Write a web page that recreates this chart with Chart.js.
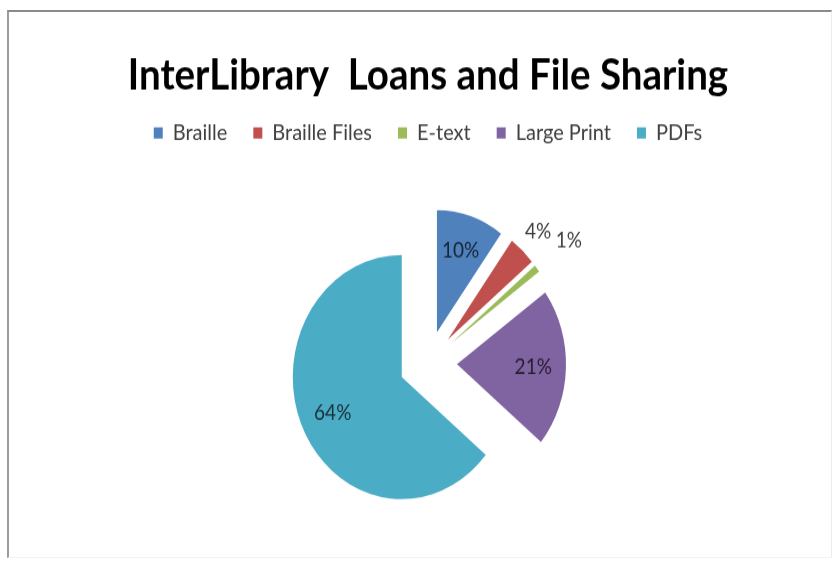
<!DOCTYPE html>
<html>
<head>
<meta charset="utf-8">
<title>InterLibrary Loans and File Sharing</title>
<script src="https://cdn.jsdelivr.net/npm/chart.js@4.4.1/dist/chart.umd.min.js"></script>
<style>
  html, body { margin: 0; padding: 0; background: #fff; }
  #wrap { position: relative; width: 833px; height: 564px; overflow: hidden; }
  #frame {
    position: absolute; left: 7px; top: 10px; width: 822px; height: 545px;
    border-top: 2px solid #8a8a8a; border-left: 2px solid #9c9c9c;
    border-right: 1px solid #ececec; border-bottom: 1px solid #f2f2f2;
  }
  #chart { position: absolute; left: 0; top: 0; }
</style>
</head>
<body>
<div id="wrap">
  <div id="frame"></div>
  <!-- the source picture is stretched taller than drawn, so the canvas is stretched too;
       its last few rows fall below the clipped frame so the pie sits a little lower -->
  <canvas id="chart" width="833" height="510" style="width:833px;height:571px"></canvas>
</div>
<script>
const categories = ['Braille', 'Braille Files', 'E-text', 'Large Print', 'PDFs'];
const shares = [10, 4, 1, 21, 64];
const sliceColors = ['#4F81BD', '#C0504D', '#9BBB59', '#8064A2', '#4BACC6'];

// Excel explodes a slice by sliding it out whole. Chart.js's own offset also
// grows the radius, so draw the arcs as plain shifted wedges.
Chart.ArcElement.prototype.draw = function (ctx) {
    const { x, y, startAngle, endAngle, outerRadius, options } = this;
    if (endAngle - startAngle <= 0) return;
    const mid = (startAngle + endAngle) / 2;
    const shift = options.offset || 0;
    ctx.save();
    ctx.translate(Math.cos(mid) * shift, Math.sin(mid) * shift);
    ctx.beginPath();
    ctx.moveTo(x, y);
    ctx.arc(x, y, outerRadius, startAngle, endAngle);
    ctx.closePath();
    ctx.fillStyle = options.backgroundColor;
    ctx.fill();
    ctx.restore();
};

// percentage labels, inside the big slices and outside the thin ones
const sliceLabels = {
    id: 'sliceLabels',
    afterDatasetsDraw(chart, args, opts) {
        const ctx = chart.ctx;
        const meta = chart.getDatasetMeta(0);
        const total = shares.reduce((a, b) => a + b, 0);
        ctx.save();
        ctx.font = '19px Lato';
        ctx.textAlign = 'center';
        ctx.textBaseline = 'middle';
        meta.data.forEach((arc, i) => {
            const mid = (arc.startAngle + arc.endAngle) / 2;
            const dist = opts.distance[i];
            const r = (arc.options.offset || 0) + arc.outerRadius * dist;
            ctx.fillStyle = dist < 1 ? opts.insideColor : opts.outsideColor;
            ctx.fillText(Math.round(shares[i] / total * 100) + '%',
                arc.x + Math.cos(mid) * r, arc.y + Math.sin(mid) * r);
        });
        ctx.restore();
    }
};

new Chart(document.getElementById('chart'), {
    type: 'pie',
    data: {
        labels: categories,
        datasets: [{
            data: shares,
            backgroundColor: sliceColors,
            borderColor: sliceColors,
            borderWidth: 0,
            offset: 29
        }]
    },
    options: {
        responsive: false,
        animation: false,
        radius: 109,
        layout: { padding: { left: 23, right: 0, top: 0, bottom: 0 } },
        plugins: {
            title: {
                display: true,
                text: 'InterLibrary  Loans and File Sharing',
                color: '#000',
                font: { family: 'Lato', size: 38.5, weight: 'bold', lineHeight: 0.8 },
                padding: { top: 52, bottom: 0 }
            },
            legend: {
                position: 'top',
                labels: {
                    boxWidth: 9,
                    boxHeight: 10,
                    padding: 26,
                    color: '#404040',
                    font: { family: 'Lato', size: 20 }
                }
            },
            tooltip: { enabled: false },
            sliceLabels: {
                distance: [0.70, 1.21, 1.37, 0.70, 0.70],
                insideColor: 'rgba(0, 0, 0, 0.72)',
                outsideColor: '#404040'
            }
        }
    },
    plugins: [sliceLabels]
});
</script>
</body>
</html>
